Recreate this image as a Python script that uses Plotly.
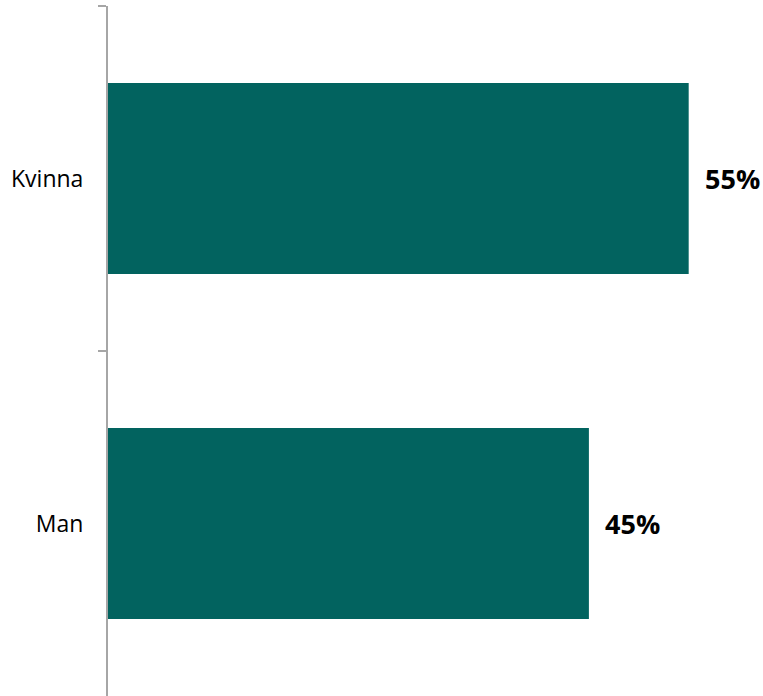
import plotly.graph_objects as go

categories = ["Kvinna", "Man"]
values = [54.7, 45.3]
labels = ["55%", "45%"]

bar_color = "#02635F"
axis_color = "#A6A6A6"

fig = go.Figure()
fig.add_trace(go.Bar(
    x=values, y=categories, orientation="h",
    marker=dict(color=bar_color, line=dict(width=0)),
    hoverinfo="skip",
))

for c, v, t in zip(categories, values, labels):
    fig.add_annotation(
        x=v, y=c, text="<b>%s</b>" % t, showarrow=False,
        xanchor="left", yanchor="middle", xshift=14,
        font=dict(family="Open Sans", size=27, color="#000000"),
    )

fig.update_layout(
    width=763, height=696,
    margin=dict(l=108, r=0, t=6, b=0),
    paper_bgcolor="white", plot_bgcolor="white",
    bargap=0.446,
    showlegend=False,
    font=dict(family="Open Sans", size=23, color="#000000"),
    xaxis=dict(range=[0, 61.7], visible=False, fixedrange=True),
    yaxis=dict(
        autorange="reversed",
        showline=True, linecolor=axis_color, linewidth=2,
        ticks="outside", tickson="boundaries", ticklen=8,
        tickcolor=axis_color, tickwidth=2,
        ticklabelstandoff=18,
        showgrid=False, zeroline=False,
        tickfont=dict(family="Open Sans", size=23, color="#000000"),
    ),
)

fig.write_html("out.html")
